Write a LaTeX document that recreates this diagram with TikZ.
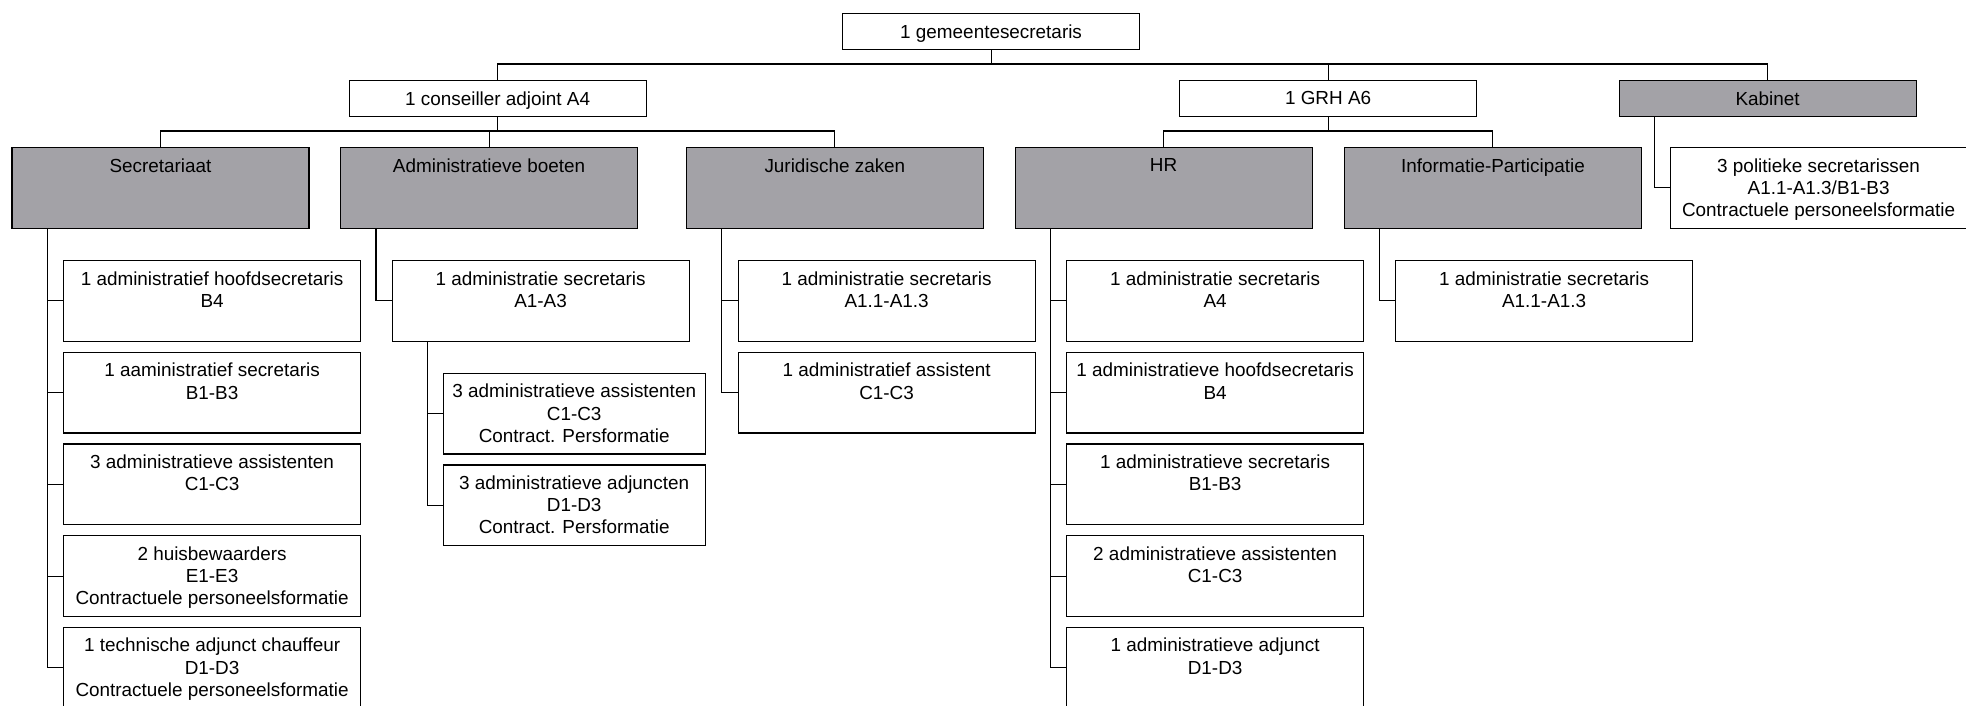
\documentclass[tikz,border=0pt]{standalone}
\usepackage{fontspec}
\setmainfont{Liberation Sans}
\definecolor{boxgray}{RGB}{163,162,167}
\tikzset{
  wbox/.style={draw=black, line width=1.2pt, fill=white, minimum width=297pt, inner sep=0pt, anchor=north west},
  gbox/.style={wbox, fill=boxgray},
  nbox/.style={wbox, minimum width=262pt},
  tall/.style={minimum height=80.7pt},
  short/.style={minimum height=35.7pt},
  lbl/.style={anchor=north, inner sep=0pt, align=center, font=\fontsize{18.9}{22.3}\selectfont},
  conn/.style={line width=1.05pt, draw=black},
}
\begin{document}
\begin{tikzpicture}[x=1pt,y=-1pt]
\clip (0,0) rectangle (1966,706);
\fill[white] (0,0) rectangle (1966,706);

% top levels
\node[wbox,short] (G) at (842,13.3) {};
\node[wbox,short] (C) at (348.5,80) {};
\node[wbox,short] (GRH) at (1179,80) {};
\node[gbox,short] (Kab) at (1618.5,80) {};

% departments
\node[gbox,tall] (Sec) at (11.4,147) {};
\node[gbox,tall] (Adm) at (340,147) {};
\node[gbox,tall] (Jur) at (685.8,147) {};
\node[gbox,tall] (HR) at (1014.5,147) {};
\node[gbox,tall] (Inf) at (1343.8,147) {};
\node[wbox,tall] (Pol) at (1669.5,147) {};

% Secretariaat children
\node[wbox,tall] (s1) at (63,260) {};
\node[wbox,tall] (s2) at (63,351.7) {};
\node[wbox,tall] (s3) at (63,443.4) {};
\node[wbox,tall] (s4) at (63,535.1) {};
\node[wbox,tall] (s5) at (63,626.8) {};

% Administratieve boeten children
\node[wbox,tall] (a1) at (391.5,260) {};
\node[nbox,tall] (a2) at (442.6,372.7) {};
\node[nbox,tall] (a3) at (442.6,464.3) {};

% Juridische zaken children
\node[wbox,tall] (j1) at (737.5,260) {};
\node[wbox,tall] (j2) at (737.5,351.7) {};

% HR children
\node[wbox,tall] (h1) at (1066,260) {};
\node[wbox,tall] (h2) at (1066,351.7) {};
\node[wbox,tall] (h3) at (1066,443.4) {};
\node[wbox,tall] (h4) at (1066,535.1) {};
\node[wbox,tall] (h5) at (1066,626.8) {};

% Informatie-Participatie child
\node[wbox,tall] (i1) at (1395,260) {};

% labels
\node[lbl] (tG) at ([yshift=-11.2pt]G.north) {1 gemeentesecretaris};
\node[lbl] (tC) at ([yshift=-11.2pt]C.north) {1 conseiller adjoint A4};
\node[lbl] (tGRH) at ([yshift=-11.2pt]GRH.north) {1 GRH A6};
\node[lbl] (tKab) at ([yshift=-11.2pt]Kab.north) {Kabinet};
\node[lbl] (tSec) at ([yshift=-11.2pt]Sec.north) {Secretariaat};
\node[lbl] (tAdm) at ([yshift=-11.2pt]Adm.north) {Administratieve boeten};
\node[lbl] (tJur) at ([yshift=-11.2pt]Jur.north) {Juridische zaken};
\node[lbl] (tHR) at ([yshift=-11.2pt]HR.north) {HR};
\node[lbl] (tInf) at ([yshift=-11.2pt]Inf.north) {Informatie-Participatie};
\node[lbl] (tPol) at ([yshift=-11.2pt]Pol.north) {3 politieke secretarissen\\A1.1-A1.3/B1-B3\\Contractuele personeelsformatie};
\node[lbl] (ts1) at ([yshift=-11.2pt]s1.north) {1 administratief hoofdsecretaris\\B4};
\node[lbl] (ts2) at ([yshift=-11.2pt]s2.north) {1 aaministratief secretaris\\B1-B3};
\node[lbl] (ts3) at ([yshift=-11.2pt]s3.north) {3 administratieve assistenten\\C1-C3};
\node[lbl] (ts4) at ([yshift=-11.2pt]s4.north) {2 huisbewaarders\\E1-E3\\Contractuele personeelsformatie};
\node[lbl] (ts5) at ([yshift=-11.2pt]s5.north) {1 technische adjunct chauffeur\\D1-D3\\Contractuele personeelsformatie};
\node[lbl] (ta1) at ([yshift=-11.2pt]a1.north) {1 administratie secretaris\\A1-A3};
\node[lbl] (ta2) at ([yshift=-11.2pt]a2.north) {3 administratieve assistenten\\C1-C3\\Contract. Persformatie};
\node[lbl] (ta3) at ([yshift=-11.2pt]a3.north) {3 administratieve adjuncten\\D1-D3\\Contract. Persformatie};
\node[lbl] (tj1) at ([yshift=-11.2pt]j1.north) {1 administratie secretaris\\A1.1-A1.3};
\node[lbl] (tj2) at ([yshift=-11.2pt]j2.north) {1 administratief assistent\\C1-C3};
\node[lbl] (th1) at ([yshift=-11.2pt]h1.north) {1 administratie secretaris\\A4};
\node[lbl] (th2) at ([yshift=-11.2pt]h2.north) {1 administratieve hoofdsecretaris\\B4};
\node[lbl] (th3) at ([yshift=-11.2pt]h3.north) {1 administratieve secretaris\\B1-B3};
\node[lbl] (th4) at ([yshift=-11.2pt]h4.north) {2 administratieve assistenten\\C1-C3};
\node[lbl] (th5) at ([yshift=-11.2pt]h5.north) {1 administratieve adjunct\\D1-D3};
\node[lbl] (ti1) at ([yshift=-11.2pt]i1.north) {1 administratie secretaris\\A1.1-A1.3};

% buses
\coordinate (b1) at (G.south |- 0,64);
\coordinate (b2) at (C.south |- 0,131);
\coordinate (b3) at (GRH.south |- 0,131);

\draw[conn] (G.south) -- (b1);
\draw[conn] (C.north) |- (b1) -| (Kab.north);
\draw[conn] (b1) -| (GRH.north);

\draw[conn] (C.south) -- (b2);
\draw[conn] (Sec.north) |- (b2) -| (Jur.north);
\draw[conn] (b2) -| (Adm.north);

\draw[conn] (GRH.south) -- (b3);
\draw[conn] (HR.north) |- (b3) -| (Inf.north);

% side connectors: one trunk per parent, then short branches
\coordinate (ks) at ([xshift=36pt]Kab.south west);
\draw[conn] (ks) |- (Pol.west);

\coordinate (ss) at ([xshift=36pt]Sec.south west);
\draw[conn] (ss) |- (s5.west);
\foreach \c in {s1,s2,s3,s4} {\draw[conn] (ss |- \c.west) -- (\c.west);}

\coordinate (as) at ([xshift=36pt]Adm.south west);
\draw[conn] (as) |- (a1.west);

\coordinate (a1s) at ([xshift=36pt]a1.south west);
\draw[conn] (a1s) |- (a3.west);
\draw[conn] (a1s |- a2.west) -- (a2.west);

\coordinate (js) at ([xshift=36pt]Jur.south west);
\draw[conn] (js) |- (j2.west);
\draw[conn] (js |- j1.west) -- (j1.west);

\coordinate (hs) at ([xshift=36pt]HR.south west);
\draw[conn] (hs) |- (h5.west);
\foreach \c in {h1,h2,h3,h4} {\draw[conn] (hs |- \c.west) -- (\c.west);}

\coordinate (is) at ([xshift=36pt]Inf.south west);
\draw[conn] (is) |- (i1.west);
\end{tikzpicture}
\end{document}
